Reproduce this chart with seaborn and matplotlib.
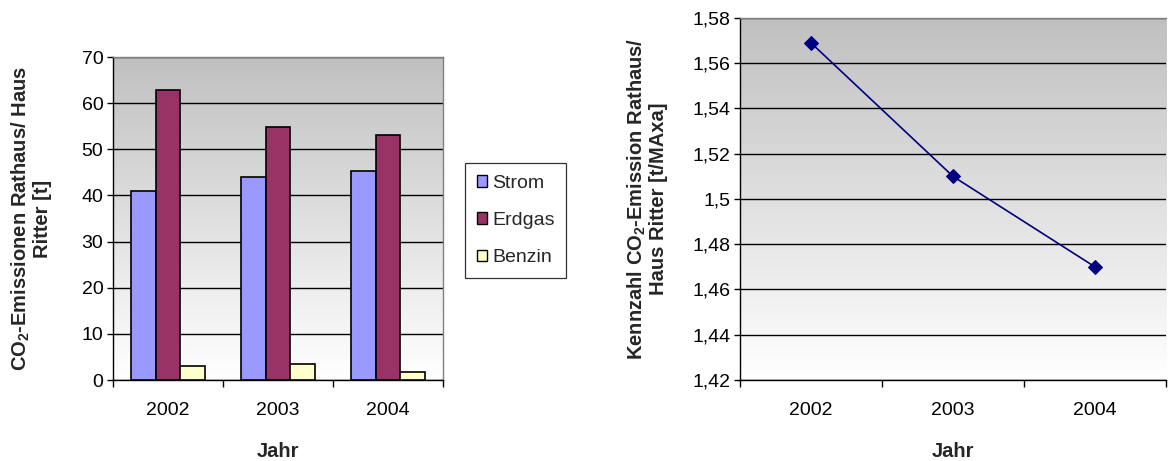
import numpy as np
import pandas as pd
import matplotlib
matplotlib.use("Agg")
import matplotlib.pyplot as plt
import seaborn as sns
from matplotlib.ticker import FixedLocator, FuncFormatter
from matplotlib.patches import Patch
from matplotlib.colors import LinearSegmentedColormap

# ---- data ----
years = ["2002", "2003", "2004"]
series_names = ["Strom", "Erdgas", "Benzin"]
strom = [41.0, 44.0, 45.2]
erdgas = [62.8, 54.9, 53.1]
benzin = [3.0, 3.4, 1.7]
kennzahl = [1.569, 1.510, 1.470]
left_yticks = [0, 10, 20, 30, 40, 50, 60, 70]
right_yticks = [1.42, 1.44, 1.46, 1.48, 1.50, 1.52, 1.54, 1.56, 1.58]
series_colors = ["#9999FF", "#993366", "#FFFFCC"]

sns.set_theme(style="white")
plt.rcParams["font.family"] = ["Liberation Sans", "DejaVu Sans"]
plt.rcParams["mathtext.fontset"] = "custom"
plt.rcParams["mathtext.rm"] = "Liberation Sans"
plt.rcParams["mathtext.bf"] = "Liberation Sans:bold"
FS = 14
LFS = 14.5

W, H = 1169, 461
fig = plt.figure(figsize=(W / 100, H / 100), dpi=100)
fig.patch.set_facecolor("white")

def rect(x0, y0, x1, y1):
    return [x0 / W, (H - y1) / H, (x1 - x0) / W, (y1 - y0) / H]

grad_cmap = LinearSegmentedColormap.from_list("g", ["#C0C0C0", "#FFFFFF"])

def make_axes(r):
    bg = fig.add_axes(r, zorder=0)
    bg.imshow(np.linspace(0, 1, 256).reshape(-1, 1), cmap=grad_cmap, aspect="auto",
              extent=(0, 1, 0, 1), origin="upper")
    bg.set_axis_off()
    ax = fig.add_axes(r, zorder=1)
    ax.set_facecolor("none")
    return ax

ax1 = make_axes(rect(113, 57, 443, 380))
ax2 = make_axes(rect(740, 18, 1166, 380))

# ---- left: bars ----
df = pd.DataFrame({
    "Jahr": years * 3,
    "Serie": [s for s in series_names for _ in years],
    "Wert": strom + erdgas + benzin,
})
sns.barplot(data=df, x="Jahr", y="Wert", hue="Serie", hue_order=series_names,
            palette=series_colors, saturation=1, width=0.67, edgecolor="black",
            linewidth=1.2, ax=ax1, legend=False, zorder=3)
ax1.set_xlim(-0.5, 2.5)
ax1.set_ylim(0, 70)
ax1.yaxis.set_major_locator(FixedLocator(left_yticks))
ax1.yaxis.set_major_formatter(FuncFormatter(lambda v, p: f"{v:g}"))

# ---- right: line ----
sns.lineplot(x=years, y=kennzahl, color="#000080", marker="D", markersize=7,
             markeredgecolor="#000080", linewidth=1.2, ax=ax2, zorder=3)
ax2.set_xlim(-0.5, 2.5)
ax2.set_ylim(1.42, 1.58)
ax2.yaxis.set_major_locator(FixedLocator(right_yticks))
ax2.yaxis.set_major_formatter(
    FuncFormatter(lambda v, p: f"{v:.2f}".rstrip("0").rstrip(".").replace(".", ",")))

for ax in (ax1, ax2):
    ax.yaxis.grid(True, color="black", linewidth=1.0)
    ax.xaxis.grid(False)
    ax.set_axisbelow(True)
    ax.xaxis.set_minor_locator(FixedLocator([-0.5, 0.5, 1.5, 2.5]))
    ax.tick_params(axis="x", which="major", length=0, pad=16, labelsize=FS, colors="black")
    ax.tick_params(axis="x", which="minor", length=5, width=1, direction="out",
                   color="black", bottom=True)
    ax.tick_params(axis="y", which="major", length=4, width=1, direction="out",
                   pad=3, labelsize=FS, colors="black", left=True)
    for s in ("left", "bottom"):
        ax.spines[s].set_color("black")
        ax.spines[s].set_linewidth(1.0)
    ax.spines["top"].set_color("#808080")
    ax.spines["top"].set_linewidth(1.0)
    ax.spines["right"].set_color("#808080")
    ax.spines["right"].set_linewidth(1.0)
    ax.set_xlabel("Jahr", fontsize=LFS, fontweight="bold", va="center")
ax2.spines["right"].set_visible(False)

ax1.xaxis.set_label_coords(0.5, (380 - 451) / 323, transform=ax1.transAxes)
ax2.xaxis.set_label_coords(0.5, (380 - 451) / 362, transform=ax2.transAxes)

ax1.set_ylabel("CO$_\\mathbf{2}$-Emissionen Rathaus/ Haus\nRitter [t]",
               fontsize=LFS, fontweight="bold", ha="center", va="center",
               linespacing=1.05)
ax1.yaxis.set_label_coords((31 - 113) / 330, 0.5)
ax2.set_ylabel("Kennzahl CO$_\\mathbf{2}$-Emission Rathaus/\nHaus Ritter [t/MAxa]",
               fontsize=LFS, fontweight="bold", ha="center", va="center",
               linespacing=1.05)
ax2.yaxis.set_label_coords((647 - 740) / 426, 0.5)

# ---- legend ----
handles = [Patch(facecolor=c, edgecolor="black", linewidth=1) for c in series_colors]
leg = fig.legend(handles, series_names, loc="upper left",
                 bbox_to_anchor=(465 / W, 1 - 163 / H), frameon=True, fancybox=False,
                 edgecolor="black", fontsize=FS, handlelength=0.55, handleheight=0.55,
                 handletextpad=0.25, borderpad=0.6, labelspacing=1.05, borderaxespad=0)
leg.get_frame().set_linewidth(0.9)

fig.savefig("out.png", dpi=100, facecolor="white")
